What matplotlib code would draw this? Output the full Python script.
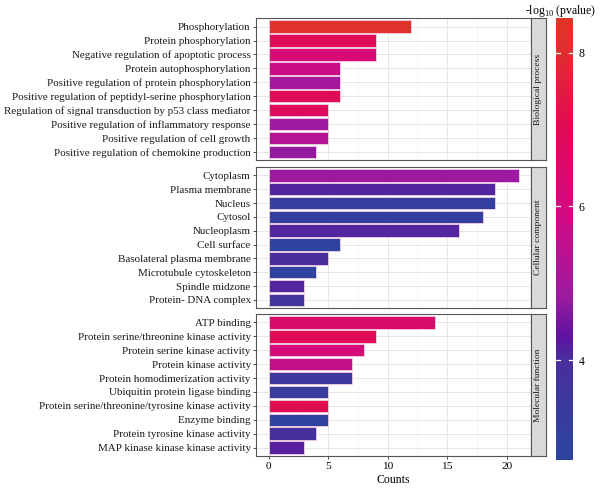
import numpy as np
import matplotlib
matplotlib.use("Agg")
import matplotlib.pyplot as plt
from matplotlib.colors import LinearSegmentedColormap, Normalize

plt.rcParams['font.family'] = ['Liberation Serif', 'DejaVu Serif']
plt.rcParams['mathtext.fontset'] = 'custom'
plt.rcParams['mathtext.rm'] = 'Liberation Serif'

# data
bp_terms = ["Phosphorylation", "Protein phosphorylation",
            "Negative regulation of apoptotic process", "Protein autophosphorylation",
            "Positive regulation of protein phosphorylation",
            "Positive regulation of peptidyl-serine phosphorylation",
            "Regulation of signal transduction by p53 class mediator",
            "Positive regulation of inflammatory response",
            "Positive regulation of cell growth",
            "Positive regulation of chemokine production"]
bp_counts = [12, 9, 9, 6, 6, 6, 5, 5, 5, 4]
bp_logp = [8.2, 7.0, 6.3, 5.8, 5.0, 7.0, 6.8, 4.9, 5.3, 4.75]

cc_terms = ["Cytoplasm", "Plasma membrane", "Nucleus", "Cytosol", "Nucleoplasm",
            "Cell surface", "Basolateral plasma membrane", "Microtubule cytoskeleton",
            "Spindle midzone", "Protein- DNA complex"]
cc_counts = [21, 19, 19, 18, 16, 6, 5, 4, 3, 3]
cc_logp = [4.85, 4.1, 3.1, 3.1, 4.1, 2.9, 4.0, 2.8, 4.1, 3.7]

mf_terms = ["ATP binding", "Protein serine/threonine kinase activity",
            "Protein serine kinase activity", "Protein kinase activity",
            "Protein homodimerization activity", "Ubiquitin protein ligase binding",
            "Protein serine/threonine/tyrosine kinase activity", "Enzyme binding",
            "Protein tyrosine kinase activity", "MAP kinase kinase kinase activity"]
mf_counts = [14, 9, 8, 7, 7, 5, 5, 5, 4, 3]
mf_logp = [6.5, 7.0, 6.2, 5.6, 3.5, 3.3, 7.1, 2.9, 3.9, 4.2]

groups = ["Biological process", "Cellular component", "Molecular function"]

vmin, vmax = 2.7, 8.45
nodes = [(2.7, "#2d45a0"), (3.3, "#383c9c"), (4.0, "#4a2e9e"), (4.3, "#5e14a0"),
         (4.8, "#9a1ba0"), (5.5, "#c0108e"), (6.0, "#d40a80"), (7.0, "#e00a55"),
         (8.0, "#e02e30"), (8.45, "#e03526")]
cmap = LinearSegmentedColormap.from_list(
    "gp", [((v - vmin) / (vmax - vmin), c) for v, c in nodes])
norm = Normalize(vmin, vmax)

fig = plt.figure(figsize=(6, 4.93), dpi=100)
left, right = 0.427, 0.885
panels = [(0.675, 0.963), (0.375, 0.661), (0.075, 0.363)]
data = [(bp_terms, bp_counts, bp_logp), (cc_terms, cc_counts, cc_logp),
        (mf_terms, mf_counts, mf_logp)]

for i, ((b, t), (terms, counts, logp)) in enumerate(zip(panels, data)):
    ax = fig.add_axes([left, b, right - left, t - b])
    y = np.arange(len(terms))[::-1]
    ax.barh(y, counts, height=0.9, color=cmap(norm(np.array(logp))),
            edgecolor="#f3d0e6", linewidth=0.6, zorder=3)
    ax.set_xlim(-1.05, 22.05)
    ax.set_ylim(-0.6, len(terms) - 0.4)
    ax.set_yticks(y)
    ax.set_yticklabels(terms, fontsize=7.95, color="#1a1a1a")
    ax.set_xticks([0, 5, 10, 15, 20])
    ax.set_xticks([2.5, 7.5, 12.5, 17.5], minor=True)
    ax.grid(True, which="major", color="#e6e6e6", linewidth=0.7, zorder=0)
    ax.grid(True, which="minor", axis="x", color="#f2f2f2", linewidth=0.5, zorder=0)
    ax.tick_params(axis="y", length=2.5, width=0.6, color="#333333", pad=1.5)
    ax.tick_params(axis="x", length=2.5, width=0.6, color="#333333", labelsize=8.2, pad=2)
    ax.tick_params(which="minor", length=0)
    for s in ax.spines.values():
        s.set_color("#555555")
        s.set_linewidth(0.8)
    if i < 2:
        ax.tick_params(axis="x", labelbottom=False, length=0)
    else:
        ax.set_xlabel("Counts", fontsize=8.5, labelpad=2)

    # facet strip
    sax = fig.add_axes([right, b, 0.025, t - b])
    sax.set_facecolor("#d9d9d9")
    sax.set_xticks([])
    sax.set_yticks([])
    for s in sax.spines.values():
        s.set_color("#555555")
        s.set_linewidth(0.8)
    sax.text(0.5, 0.5, groups[i], rotation=90, ha="center", va="center",
             fontsize=6.8, color="#1a1a1a", transform=sax.transAxes)

# colorbar
cax = fig.add_axes([0.927, 0.067, 0.028, 0.896])
grad = np.linspace(vmin, vmax, 256).reshape(-1, 1)
cax.imshow(grad, aspect="auto", cmap=cmap, norm=norm, origin="lower",
           extent=[0, 1, vmin, vmax])
cax.set_xlim(0, 1)
cax.set_ylim(vmin, vmax)
cax.set_xticks([])
cax.yaxis.tick_right()
cax.set_yticks([4, 6, 8])
cax.tick_params(axis="y", length=0, labelsize=8.5, pad=4)
for v in [4, 6, 8]:
    cax.plot([0, 0.25], [v, v], color="white", linewidth=0.9)
    cax.plot([0.75, 1], [v, v], color="white", linewidth=0.9)
for s in cax.spines.values():
    s.set_visible(False)
fig.text(0.935, 0.978, "-log$_{\\mathregular{10}}$ (pvalue)", ha="center", va="center",
         fontsize=8.5)

fig.savefig("out.png", dpi=100)
